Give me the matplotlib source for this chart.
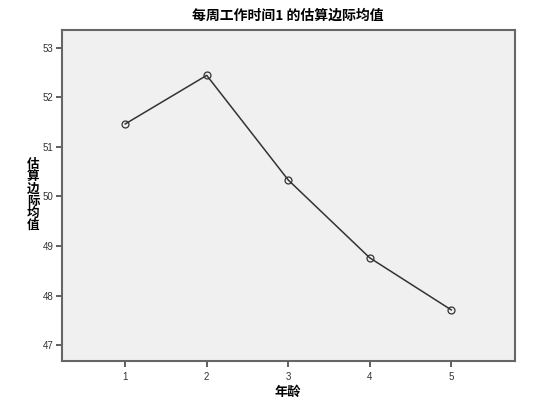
import matplotlib
matplotlib.use('Agg')
import matplotlib.pyplot as plt

# 数据
age = [1, 2, 3, 4, 5]
means = [51.46, 52.44, 50.33, 48.76, 47.71]
title = '每周工作时间1 的估算边际均值'
xlabel = '年龄'
ylabel = '估算边际均值'

plt.rcParams['font.family'] = ['Noto Sans CJK SC', 'DejaVu Sans']

fig = plt.figure(figsize=(5.54, 4.13), dpi=100)
ax = fig.add_axes([0.112, 0.126, 0.818, 0.802])
ax.set_facecolor('#f0f0f0')

ax.plot(age, means, color='#333333', linewidth=1.1, marker='o', markersize=5,
        markerfacecolor='none', markeredgecolor='#333333', markeredgewidth=0.9)

ax.set_xlim(0.225, 5.785)
ax.set_ylim(46.68, 53.36)
ax.set_xticks(age)
ax.set_yticks([47, 48, 49, 50, 51, 52, 53])
ax.tick_params(direction='out', length=4, width=1.2, color='#444444',
               labelsize=7, labelcolor='#333333', pad=2)
for lab in ax.get_xticklabels() + ax.get_yticklabels():
    lab.set_family('Liberation Sans')
ax.tick_params(axis='x', pad=4)

for s in ax.spines.values():
    s.set_color('#666666')
    s.set_linewidth(1.5)

fig.text(0.52, 0.962, title, ha='center', va='center', fontsize=10, fontweight='bold')
fig.text(0.52, 0.051, xlabel, ha='center', va='center', fontsize=9.5, fontweight='bold')
fig.text(0.06, 0.528, '\n'.join(ylabel), ha='center', va='center', fontsize=9,
         fontweight='bold', linespacing=0.92)

fig.savefig('out.png', dpi=100)
